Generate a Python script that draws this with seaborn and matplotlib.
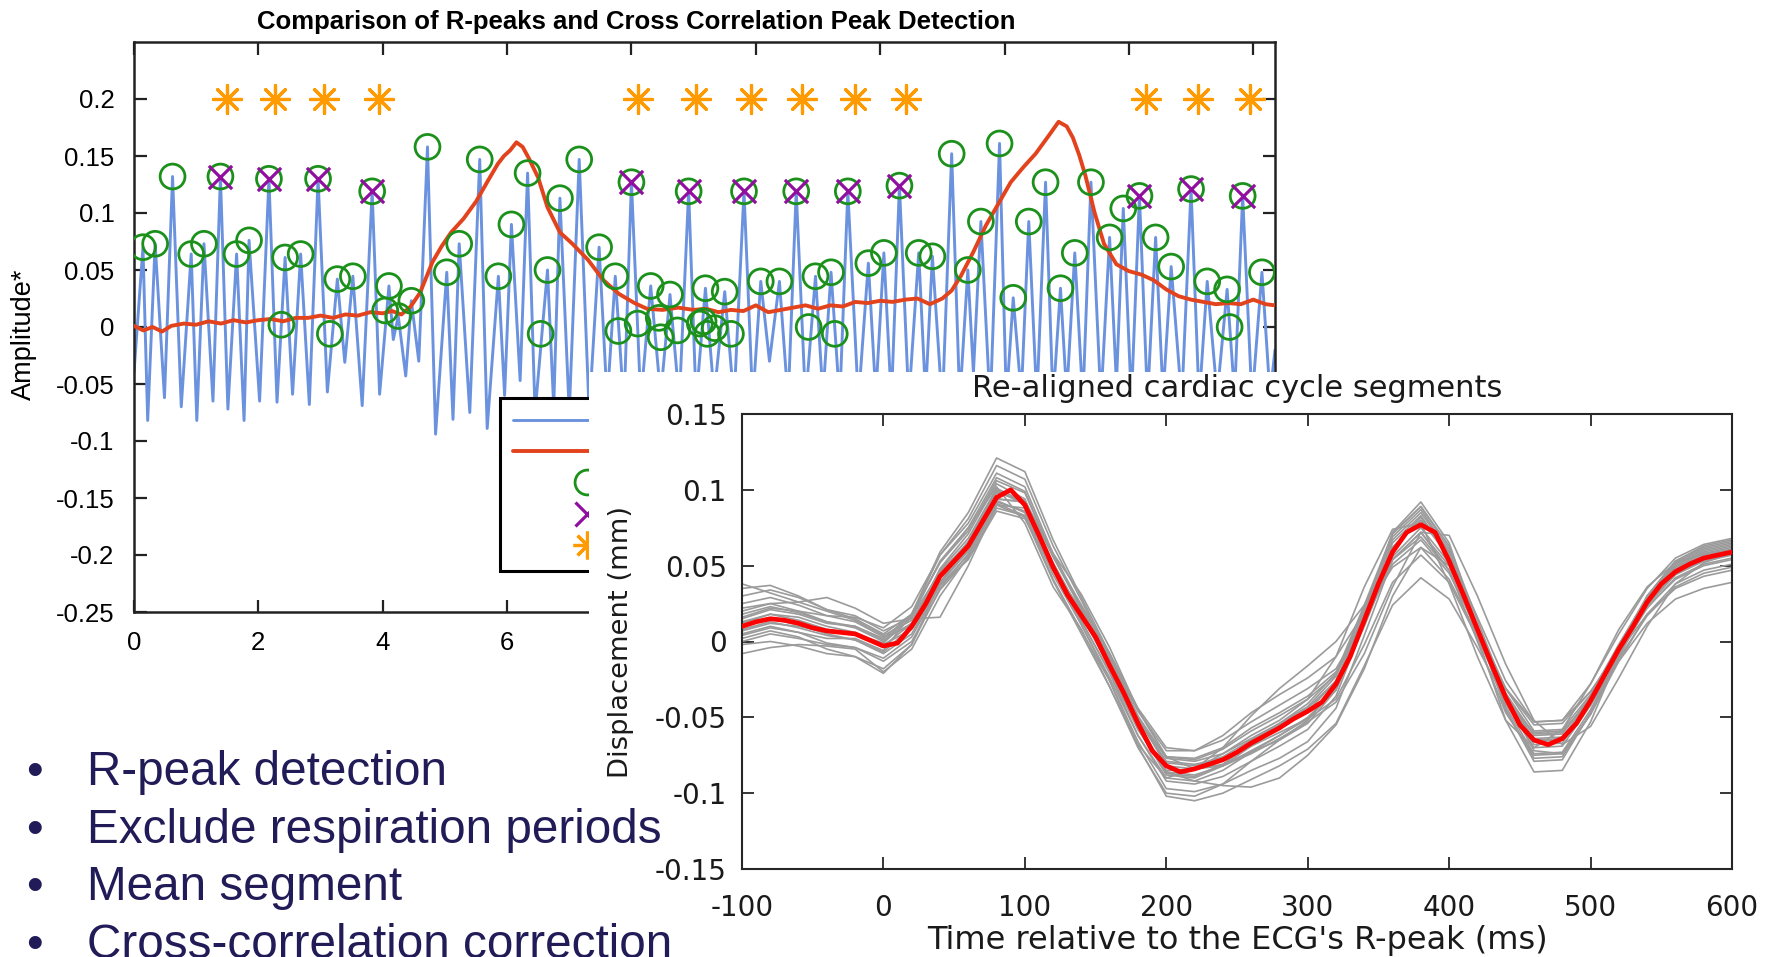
import numpy as np
import pandas as pd
import matplotlib
matplotlib.use("Agg")
import matplotlib.pyplot as plt
from matplotlib.lines import Line2D
from matplotlib.patches import Rectangle
import seaborn as sns

# ---------------- top chart data ----------------
# displacement signal vertices (time s, amplitude)
signal_pts = [
    (0.00, -0.040), (0.144, 0.070), (0.22, -0.082), (0.34, 0.073), (0.49, -0.062),
    (0.62, 0.132), (0.76, -0.070), (0.92, 0.064), (1.01, -0.082), (1.125, 0.073),
    (1.27, -0.065), (1.39, 0.132), (1.51, -0.072), (1.65, 0.064), (1.77, -0.082),
    (1.85, 0.076), (2.02, -0.065), (2.17, 0.130), (2.30, -0.066), (2.43, 0.061),
    (2.55, -0.059), (2.68, 0.064), (2.82, -0.068), (2.96, 0.130), (3.11, -0.057),
    (3.27, 0.042), (3.39, -0.031), (3.52, 0.0445), (3.67, -0.069), (3.83, 0.119),
    (3.95, -0.059), (4.10, 0.036), (4.17, -0.011), (4.25, 0.0096), (4.37, -0.043),
    (4.46, 0.023), (4.58, -0.030), (4.72, 0.158), (4.85, -0.094), (5.03, 0.048),
    (5.13, -0.081), (5.23, 0.073), (5.40, -0.075), (5.56, 0.147), (5.68, -0.089),
    (5.86, 0.0445), (5.96, -0.060), (6.07, 0.090), (6.21, -0.047), (6.33, 0.135),
    (6.45, -0.075), (6.65, 0.050), (6.75, -0.070), (6.85, 0.113), (7.00, -0.075),
    (7.16, 0.147), (7.32, -0.075), (7.48, 0.070), (7.61, -0.065), (7.74, 0.0445),
    (7.88, -0.070), (8.00, 0.127), (8.15, -0.065), (8.31, 0.036), (8.47, -0.060),
    (8.62, 0.0285), (8.77, -0.065), (8.92, 0.119), (9.04, -0.065), (9.19, 0.034),
    (9.33, -0.060), (9.50, 0.031), (9.65, -0.065), (9.81, 0.119), (9.95, -0.065),
    (10.08, 0.040), (10.22, -0.030), (10.38, 0.040), (10.52, -0.065), (10.65, 0.119),
    (10.80, -0.065), (10.96, 0.0445), (11.08, -0.060), (11.21, 0.048), (11.35, -0.065),
    (11.48, 0.119), (11.65, -0.065), (11.81, 0.056), (11.93, -0.060), (12.06, 0.065),
    (12.18, -0.065), (12.31, 0.124), (12.46, -0.065), (12.62, 0.065), (12.73, -0.060),
    (12.84, 0.062), (13.00, -0.070), (13.15, 0.152), (13.28, -0.065), (13.41, 0.050),
    (13.50, -0.040), (13.62, 0.0925), (13.77, -0.070), (13.92, 0.161), (14.03, -0.065),
    (14.14, 0.0256), (14.27, -0.060), (14.39, 0.0925), (14.52, -0.065), (14.66, 0.127),
    (14.78, -0.065), (14.90, 0.034), (15.00, -0.060), (15.13, 0.065), (15.26, -0.065),
    (15.39, 0.127), (15.55, -0.065), (15.69, 0.0786), (15.80, -0.050), (15.91, 0.104),
    (16.04, -0.065), (16.17, 0.115), (16.30, -0.065), (16.43, 0.0786), (16.55, -0.060),
    (16.68, 0.053), (16.85, -0.065), (17.00, 0.121), (17.13, -0.065), (17.26, 0.040),
    (17.42, -0.060), (17.58, 0.033), (17.70, -0.060), (17.83, 0.115), (17.98, -0.065),
    (18.14, 0.048), (18.27, -0.060), (18.35, -0.020),
]
sig_t = [p[0] for p in signal_pts]
sig_v = [p[1] for p in signal_pts]

# additional low-level detected peaks (green circles off the main spikes)
low_pk_t = [2.37, 3.15, 4.04, 6.54, 7.79, 8.10, 8.44, 8.47, 8.74, 9.10, 9.16, 9.22, 9.34, 9.60, 10.85, 11.27, 17.62]
low_pk_v = [0.002, -0.006, 0.0145, -0.006, -0.0035, 0.003, 0.008, -0.009, -0.003, 0.003, 0.005, -0.006, -0.001, -0.006, 0.0, -0.006, 0.0]

# R-peaks (purple crosses)
rpk_t = [1.39, 2.17, 2.96, 3.83, 8.00, 8.92, 9.81, 10.65, 11.48, 12.31, 16.17, 17.00, 17.83]
rpk_v = [0.132, 0.130, 0.130, 0.119, 0.127, 0.119, 0.119, 0.119, 0.119, 0.124, 0.115, 0.121, 0.115]

# cross-correlation peaks (orange asterisks)
ccp_t = [1.49, 2.27, 3.06, 3.94, 8.11, 9.04, 9.92, 10.75, 11.59, 12.42, 16.28, 17.11, 17.95]
ccp_v = [0.2, 0.2, 0.2, 0.2, 0.2, 0.2, 0.2, 0.2, 0.2, 0.2, 0.2, 0.2, 0.2]

# cross-correlation envelope (red line)
xc_t = [0, 0.15, 0.3, 0.45, 0.6, 0.8, 1.0, 1.2, 1.4, 1.6, 1.8, 2.0, 2.2, 2.4, 2.6, 2.8,
        3.0, 3.2, 3.4, 3.6, 3.8, 4.0, 4.15, 4.3, 4.45, 4.6, 4.8, 4.95, 5.1, 5.3, 5.5,
        5.7, 5.85, 5.95, 6.05, 6.15, 6.25, 6.35, 6.5, 6.65, 6.85, 7.05, 7.3, 7.55, 7.8,
        8.05, 8.25, 8.5, 8.75, 9.0, 9.2, 9.4, 9.6, 9.8, 10.0, 10.2, 10.4, 10.6, 10.8,
        11.0, 11.2, 11.4, 11.6, 11.8, 12.0, 12.2, 12.4, 12.6, 12.8, 13.0, 13.15, 13.3,
        13.5, 13.7, 13.9, 14.1, 14.3, 14.5, 14.7, 14.87, 15.0, 15.1, 15.2, 15.3, 15.45,
        15.6, 15.8, 16.0, 16.2, 16.4, 16.6, 16.8, 17.0, 17.2, 17.4, 17.6, 17.8, 18.0,
        18.2, 18.35]
xc_v = [0.001, -0.003, 0.000, -0.004, 0.001, 0.003, 0.002, 0.005, 0.003, 0.006, 0.004,
        0.006, 0.007, 0.005, 0.008, 0.008, 0.010, 0.008, 0.011, 0.010, 0.013, 0.012,
        0.014, 0.011, 0.018, 0.030, 0.057, 0.071, 0.083, 0.095, 0.110, 0.129, 0.143,
        0.150, 0.155, 0.162, 0.158, 0.148, 0.131, 0.105, 0.083, 0.073, 0.059, 0.041,
        0.029, 0.021, 0.016, 0.015, 0.017, 0.015, 0.016, 0.013, 0.015, 0.014, 0.019,
        0.013, 0.015, 0.017, 0.019, 0.016, 0.019, 0.018, 0.022, 0.021, 0.023, 0.022,
        0.024, 0.025, 0.020, 0.025, 0.032, 0.045, 0.066, 0.089, 0.108, 0.127, 0.140,
        0.152, 0.167, 0.180, 0.176, 0.166, 0.151, 0.133, 0.100, 0.073, 0.055, 0.049,
        0.046, 0.041, 0.033, 0.027, 0.024, 0.022, 0.020, 0.021, 0.020, 0.024, 0.020, 0.019]

a_yticks = [-0.25, -0.2, -0.15, -0.1, -0.05, 0, 0.05, 0.1, 0.15, 0.2]
a_ylabels = ['-0.25', '-0.2', '-0.15', '-0.1', '-0.05', '0', '0.05', '0.1', '0.15', '0.2']
a_xticks = [0, 2, 4, 6, 8, 10, 12, 14, 16, 18]
# labels from 8 on lie under the second chart and are not visible
a_xlabels = ['0', '2', '4', '6', '', '', '', '', '', '']

# ---------------- bottom-right chart data ----------------
seg_t = list(range(-100, 601, 20))  # ms, sample grid of each segment
segments_um = [
    [35, 37, 30, 21, 15, 5, 18, 52, 73, 106, 98, 56, 22, -11, -49, -77, -79, -74, -64, -54, -43, -23, 22, 69, 87, 59, 8, -41, -70, -69, -42, -5, 29, 51, 60, 64],
    [-2, 0, -3, -8, -10, -18, -2, 35, 58, 91, 83, 41, 7, -26, -66, -97, -99, -94, -85, -77, -66, -44, 4, 54, 72, 47, 0, -47, -75, -74, -48, -13, 18, 38, 47, 51],
    [15, 21, 18, 12, 10, 2, 18, 57, 81, 116, 107, 63, 27, -10, -54, -87, -89, -81, -67, -54, -41, -21, 24, 71, 89, 63, 14, -34, -62, -61, -36, -2, 29, 49, 58, 62],
    [5, 10, 6, -1, -4, -13, 0, 34, 55, 88, 83, 47, 20, -10, -46, -72, -72, -62, -47, -35, -24, -10, 19, 49, 62, 41, 4, -31, -53, -52, -33, -7, 18, 35, 43, 47],
    [20, 25, 20, 13, 9, 0, 18, 59, 85, 121, 112, 67, 29, -8, -50, -82, -84, -81, -73, -65, -54, -32, 20, 72, 92, 65, 10, -45, -77, -76, -47, -7, 30, 53, 63, 67],
    [10, 15, 11, 5, 1, -8, 5, 39, 60, 93, 85, 44, 11, -26, -69, -102, -105, -100, -91, -82, -71, -54, -16, 24, 42, 28, -4, -39, -60, -59, -39, -13, 12, 28, 35, 39],
    [22, 25, 26, 29, 22, 12, 15, 16, 50, 90, 88, 48, 17, -16, -52, -76, -77, -70, -57, -47, -36, -20, 12, 54, 72, 50, 10, -31, -59, -58, -35, -2, 29, 50, 59, 63],
    [2, 7, 3, -5, -10, -21, -2, 39, 64, 99, 91, 49, 14, -21, -62, -92, -94, -89, -79, -69, -58, -36, 12, 62, 82, 55, 3, -52, -86, -85, -53, -9, 30, 53, 62, 66],
    [25, 29, 24, 17, 13, 3, 10, 37, 54, 86, 81, 47, 21, -8, -44, -70, -72, -65, -53, -42, -31, -18, 14, 51, 67, 45, 8, -31, -55, -54, -33, -5, 23, 41, 50, 54],
    [13, 18, 14, 8, 5, -3, 12, 47, 68, 101, 92, 47, 11, -24, -62, -90, -92, -85, -73, -62, -51, -30, 18, 67, 85, 59, 10, -39, -68, -67, -40, -3, 30, 52, 61, 65],
    [7, 12, 10, 6, 5, -1, 16, 53, 75, 108, 99, 56, 21, -12, -51, -79, -81, -77, -69, -60, -51, -38, -2, 39, 57, 39, 2, -37, -65, -64, -42, -11, 17, 36, 45, 49],
    [30, 34, 29, 21, 17, 7, 16, 46, 65, 98, 93, 58, 31, -4, -45, -76, -78, -71, -59, -49, -38, -22, 18, 62, 80, 58, 16, -26, -53, -52, -28, 5, 35, 55, 64, 68],
    [0, 5, 2, -2, -4, -11, 3, 37, 57, 90, 82, 40, 5, -30, -70, -100, -102, -94, -79, -65, -52, -30, 20, 71, 89, 61, 8, -45, -79, -78, -47, -8, 26, 48, 57, 61],
    [16, 22, 20, 17, 16, 9, 23, 57, 78, 111, 102, 58, 23, -13, -54, -85, -84, -70, -49, -31, -16, 0, 24, 54, 69, 47, 6, -35, -61, -60, -38, -7, 22, 42, 51, 55],
    [8, 13, 9, 4, 1, -7, 10, 48, 71, 104, 94, 49, 13, -20, -58, -86, -92, -95, -96, -90, -75, -55, -18, 30, 62, 50, 10, -37, -72, -74, -48, -10, 24, 45, 55, 59],
    [18, 23, 19, 13, 10, 1, 12, 42, 60, 92, 86, 48, 19, -16, -57, -88, -90, -82, -69, -57, -46, -26, 18, 65, 83, 56, 6, -43, -74, -73, -45, -9, 24, 44, 53, 57],
    [12, 18, 16, 10, 6, -2, 8, 38, 60, 94, 92, 56, 24, -8, -45, -76, -84, -82, -74, -64, -53, -40, -8, 36, 72, 70, 30, -15, -52, -68, -56, -24, 10, 38, 52, 58],
    [4, 9, 6, 2, 2, -6, 18, 52, 75, 102, 78, 36, 8, -30, -68, -90, -84, -74, -62, -52, -38, -10, 36, 74, 78, 38, -10, -52, -70, -58, -28, 8, 36, 52, 58, 60],
    [38, 32, 26, 20, 14, 4, 14, 44, 66, 100, 90, 50, 18, -14, -52, -80, -82, -76, -65, -55, -44, -26, 16, 62, 80, 56, 10, -36, -64, -63, -38, -4, 27, 47, 56, 60],
    [-8, -4, -2, -3, -5, -20, -5, 30, 56, 94, 92, 52, 18, -18, -58, -86, -88, -82, -72, -62, -50, -32, 10, 56, 75, 52, 7, -38, -66, -65, -40, -6, 25, 45, 54, 58],
]
mean_t = list(range(-100, 601, 10))
mean_um = [10, 13, 15, 14, 12, 9, 7, 6, 5, 1, -3, -1, 10, 25, 43, 53, 63, 79, 95, 100,
           90, 70, 49, 31, 17, 3, -16, -34, -54, -72, -82, -86, -84, -81, -78, -73, -67,
           -62, -57, -51, -46, -40, -28, -10, 14, 38, 59, 72, 77, 72, 53, 31, 8, -15, -37,
           -55, -65, -68, -64, -54, -39, -22, -5, 10, 26, 38, 46, 51, 55, 57, 59]

b_xticks = [-100, 0, 100, 200, 300, 400, 500, 600]
b_xlabels = ['-100', '0', '100', '200', '300', '400', '500', '600']
b_yticks = [-0.15, -0.1, -0.05, 0, 0.05, 0.1, 0.15]
b_ylabels = ['-0.15', '-0.1', '-0.05', '0', '0.05', '0.1', '0.15']

bullets = ["R-peak detection", "Exclude respiration periods", "Mean segment",
           "Cross-correlation correction"]

# ---------------- style ----------------
sns.set_theme(style="white")
plt.rcParams['font.family'] = ['Liberation Sans', 'DejaVu Sans']
plt.rcParams['axes.unicode_minus'] = False

BLUE = '#6b92df'
RED = '#e2431d'
GREEN = '#1b911b'
PURPLE = '#900f9f'
ORANGE = '#ff9b00'
NAVY = '#211c58'

W, H = 1777.0, 957.0
fig = plt.figure(figsize=(17.77, 9.57), dpi=100)
fig.patch.set_facecolor('white')

# ---------------- top chart ----------------
axA = fig.add_axes([134 / W, 1 - 612 / H, 1141 / W, 570 / H], zorder=1)
axA.set_facecolor('white')
sns.lineplot(x=sig_t, y=sig_v, ax=axA, color=BLUE, lw=2.1, estimator=None, sort=False, zorder=2)
sns.lineplot(x=xc_t, y=xc_v, ax=axA, color=RED, lw=2.8, estimator=None, sort=False, zorder=3)

sv = np.array(sig_v)
is_pk = np.r_[False, (sv[1:-1] > sv[:-2]) & (sv[1:-1] > sv[2:]), False]
pk_t = list(np.array(sig_t)[is_pk]) + low_pk_t
pk_v = list(sv[is_pk]) + low_pk_v
sns.scatterplot(x=pk_t, y=pk_v, ax=axA, marker='o', s=320, facecolors='none',
                edgecolor=GREEN, linewidth=2.0, zorder=4)
sns.scatterplot(x=rpk_t, y=rpk_v, ax=axA, marker='x', s=280, color=PURPLE,
                linewidth=2.3, zorder=5)
sns.scatterplot(x=ccp_t, y=ccp_v, ax=axA, marker=(8, 2, 0), s=400, color=ORANGE,
                linewidth=2.3, zorder=5)

axA.set_xlim(0, 18.35)
axA.set_ylim(-0.25, 0.25)
axA.set_xticks(a_xticks, a_xlabels, fontsize=18.5)
axA.set_yticks(a_yticks, a_ylabels, fontsize=18.5)
axA.tick_params(direction='in', length=9, width=1.6, colors='#222222',
                top=True, right=True, bottom=True, left=True)
axA.tick_params(axis='y', pad=14, labelcolor='black')
axA.tick_params(axis='x', pad=14, labelcolor='black')
for s in axA.spines.values():
    s.set_visible(True)
    s.set_color('#222222')
    s.set_linewidth(1.8)
axA.set_xlabel('')
axA.set_ylabel('Amplitude*', fontsize=19.5, color='black')
axA.yaxis.set_label_coords(-0.085, 0.487)
axA.set_title('Comparison of R-peaks and Cross Correlation Peak Detection',
              fontweight='bold', fontsize=18.5, x=0.44, pad=9, color='black')

# legend: only its left part is visible, the labels lie under the second chart
handles = [Line2D([], [], color=BLUE, lw=2.1),
           Line2D([], [], color=RED, lw=2.8),
           Line2D([], [], ls='none', marker='o', ms=17.9, mfc='none', mec=GREEN, mew=2.0),
           Line2D([], [], ls='none', marker='x', ms=16.7, mec=PURPLE, mew=2.3),
           Line2D([], [], ls='none', marker=(8, 2, 0), ms=20, mec=ORANGE, mew=2.3)]
leg = axA.legend(handles, [' '] * 5, loc='upper left', bbox_to_anchor=(500 / W, 1 - 398 / H),
                 bbox_transform=fig.transFigure, borderaxespad=0, borderpad=0.6,
                 handlelength=6.6, labelspacing=0.47, fontsize=16, frameon=True,
                 fancybox=False, edgecolor='black', framealpha=1)
leg.get_frame().set_linewidth(2.2)
leg.set_zorder(10)

# white panel behind the second chart
fig.patches.append(Rectangle((589 / W, 0), 1 - 589 / W, 1 - 372 / H,
                             transform=fig.transFigure, facecolor='white',
                             edgecolor='none', zorder=1.5))

# ---------------- bottom-right chart ----------------
axB = fig.add_axes([742 / W, 1 - 869 / H, 990 / W, 455 / H], zorder=2)
axB.set_facecolor('white')
n_seg = len(segments_um)
gray = pd.DataFrame({
    't': np.tile(seg_t, n_seg),
    'disp': np.concatenate([np.array(c, dtype=float) for c in segments_um]) / 1000.0,
    'seg': np.repeat(np.arange(n_seg), len(seg_t)),
})
sns.lineplot(data=gray, x='t', y='disp', units='seg', estimator=None, color='#9b9b9b',
             lw=1.2, ax=axB, legend=False, zorder=2)
sns.lineplot(x=mean_t, y=np.array(mean_um) / 1000.0, ax=axB, color='#ff0000', lw=3.4,
             estimator=None, zorder=3)
for line in axB.get_lines():
    line.set_solid_joinstyle('round')
axB.set_xlim(-100, 600)
axB.set_ylim(-0.15, 0.15)
axB.set_xticks(b_xticks, b_xlabels, fontsize=20, fontfamily='DejaVu Sans')
axB.set_yticks(b_yticks, b_ylabels, fontsize=20, fontfamily='DejaVu Sans')
axB.tick_params(direction='in', length=8.5, width=1.3, colors='#262626',
                top=True, right=True, bottom=True, left=True)
axB.tick_params(axis='x', pad=18, labelcolor='#1a1a1a')
axB.tick_params(axis='y', pad=11, labelcolor='#1a1a1a')
for s in axB.spines.values():
    s.set_visible(True)
    s.set_color('#262626')
    s.set_linewidth(1.5)
axB.set_xlabel("Time relative to the ECG's R-peak (ms)", fontsize=23,
               fontfamily='DejaVu Sans', color='#1a1a1a')
axB.xaxis.set_label_coords(0.5, -0.124)
axB.set_ylabel('Displacement (mm)', fontsize=19.7, fontfamily='DejaVu Sans', color='#1a1a1a')
axB.yaxis.set_label_coords(-0.109, 0.5)
axB.set_title('Re-aligned cardiac cycle segments', fontsize=22, fontfamily='DejaVu Sans',
              pad=12, color='#1a1a1a')

# ---------------- bullet list ----------------
baselines = [785, 843, 900, 958]
for txt, yb in zip(bullets, baselines):
    fig.text(34 / W, 1 - yb / H, '\u2022', ha='center', va='baseline', fontsize=34.3,
             color=NAVY, family='Liberation Sans', zorder=5)
    fig.text(87 / W, 1 - yb / H, txt, ha='left', va='baseline', fontsize=34.3,
             color=NAVY, family='Liberation Sans', zorder=5)

fig.savefig('out.png', dpi=100)
